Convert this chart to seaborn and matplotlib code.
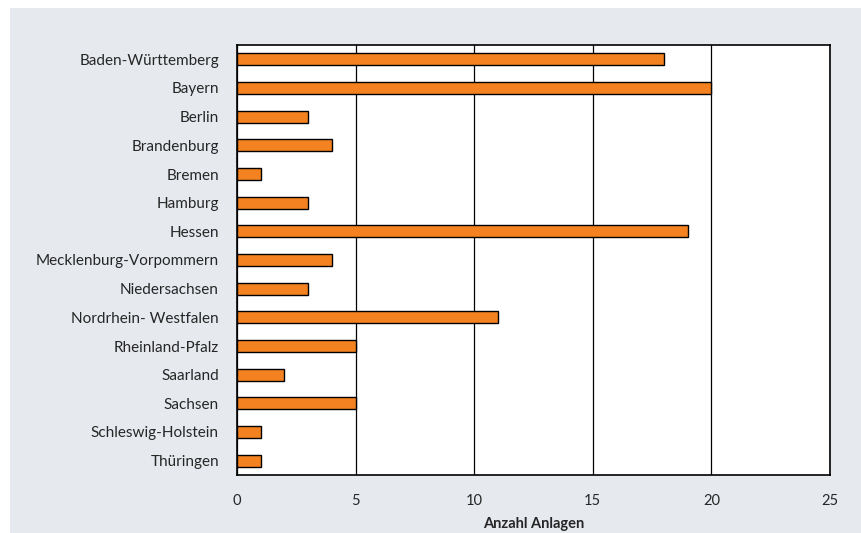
import matplotlib
matplotlib.use("Agg")
import matplotlib.pyplot as plt
import matplotlib.patches as mpatches
import seaborn as sns
import numpy as np
import pandas as pd

laender = ["Baden-Württemberg", "Bayern", "Berlin", "Brandenburg", "Bremen",
           "Hamburg", "Hessen", "Mecklenburg-Vorpommern", "Niedersachsen",
           "Nordrhein- Westfalen", "Rheinland-Pfalz", "Saarland", "Sachsen",
           "Schleswig-Holstein", "Thüringen"]
anlagen = [18, 20, 3, 4, 1, 3, 19, 4, 3, 11, 5, 2, 5, 1, 1]
x_ticks = [0, 5, 10, 15, 20, 25]

df = pd.DataFrame({"Land": laender, "Anlagen": anlagen})

sns.set_style("white")
plt.rcParams["font.family"] = ["Lato", "DejaVu Sans"]

W, H = 862, 533
fig = plt.figure(figsize=(W / 100, H / 100), dpi=100, facecolor="white")
# grey panel behind the chart
fig.patches.append(mpatches.Rectangle((10 / W, 0), 1 - 10 / W, 1 - 8 / H,
                                      transform=fig.transFigure,
                                      facecolor="#e6e9ee", edgecolor="none", zorder=-10))

ax = fig.add_axes([237 / W, 58 / H, (830 - 237) / W, (475 - 45) / H])
ax.set_facecolor("white")

sns.barplot(data=df, x="Anlagen", y="Land", orient="h", color="#f58220",
            edgecolor="black", linewidth=1.0, width=0.42, saturation=1, ax=ax,
            zorder=3)

ax.set_xlim(0, 25)
ax.set_ylim(len(laender) - 0.5, -0.5)
ax.set_xticks(x_ticks)
ax.set_xticklabels([str(t) for t in x_ticks], fontsize=10.5)
ax.xaxis.grid(True, color="black", linewidth=0.9, zorder=1)
ax.set_axisbelow(True)

ax.tick_params(axis="y", which="major", length=0, pad=13, labelsize=11)
ax.set_yticks(np.arange(-0.5, len(laender), 1), minor=True)
ax.tick_params(axis="y", which="minor", length=5, width=1.2, color="#444444")
ax.tick_params(axis="x", which="major", length=5, width=1.2, color="#444444", pad=9)

for s in ax.spines.values():
    s.set_color("black")
    s.set_linewidth(1.2)

ax.set_ylabel("")
ax.set_xlabel("Anzahl Anlagen", fontsize=10.5, fontweight="bold", labelpad=6)

fig.savefig("out.png", dpi=100, facecolor=fig.get_facecolor())
